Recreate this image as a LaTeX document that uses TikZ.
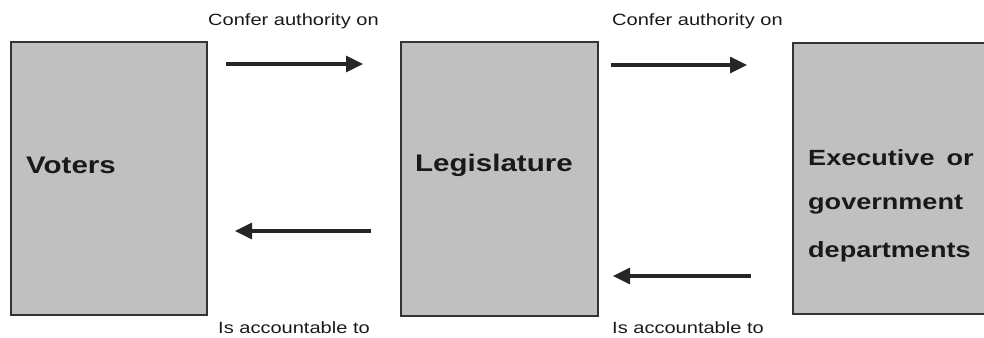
\documentclass[tikz,border=0pt]{standalone}
\usepackage{fontspec}
\setmainfont{Liberation Sans}[FakeStretch=1.23]
\usetikzlibrary{arrows.meta}
\definecolor{boxgray}{RGB}{192,192,192}
\begin{document}
\begin{tikzpicture}[x=1pt,y=-1pt,
  panel/.style={draw=black!80,line width=1.2pt,fill=boxgray},
  big/.style={font=\fontsize{24}{28}\selectfont\bfseries,text=black!90,inner sep=0pt},
  bigexe/.style={font=\fontsize{22}{26}\selectfont\bfseries,text=black!90,inner sep=0pt},
  lbl/.style={font=\fontsize{16.3}{19}\selectfont,text=black!90,inner sep=0pt},
  flow/.style={line width=3.2pt,draw=black!85,-{Triangle[length=17pt,width=16pt]}}
]
\useasboundingbox (0,0) rectangle (984,337);
\clip (0,0) rectangle (984,337);
% boxes
\draw[panel] (11,42) rectangle (207,315);
\draw[panel] (401,42) rectangle (598,316);
\draw[panel] (793,43) rectangle (1000,314);
% box texts
\node[big,anchor=west] (voters) at (26,165) {Voters};
\node[big,anchor=west] (leg) at (415,165) {Legislature};
\node[bigexe,anchor=west] (exe1) at (808,158) {Executive\hspace{12pt}or};
\node[bigexe,anchor=west] (exe2) at (808,205) {government};
\node[bigexe,anchor=west] (exe3) at (808,252) {departments};
% arrow end coordinates
\coordinate (a1s) at (226,64);
\coordinate (a1e) at (363,64);
\coordinate (a2s) at (611,65);
\coordinate (a2e) at (747,65);
\coordinate (b1s) at (371,231);
\coordinate (b1e) at (235,231);
\coordinate (b2s) at (751,276);
\coordinate (b2e) at (613,276);
\draw[flow] (a1s) -- (a1e);
\draw[flow] (a2s) -- (a2e);
\draw[flow] (b1s) -- (b1e);
\draw[flow] (b2s) -- (b2e);
% labels
\node[lbl,anchor=west] (l1) at (208,21) {Confer authority on};
\node[lbl,anchor=west] (l2) at (612,21) {Confer authority on};
\node[lbl,anchor=west] (l3) at (218,328) {Is accountable to};
\node[lbl,anchor=west] (l4) at (612,328) {Is accountable to};
\end{tikzpicture}
\end{document}
